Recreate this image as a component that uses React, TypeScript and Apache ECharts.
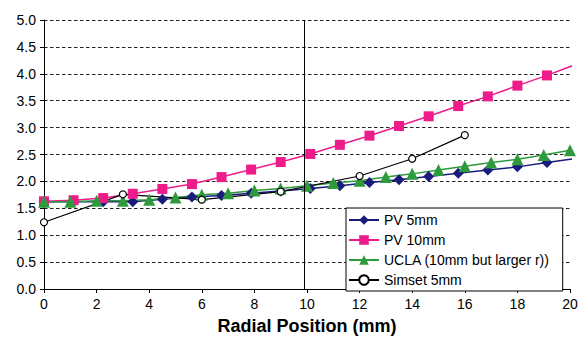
import React, { useEffect, useRef } from "react";
import * as echarts from "echarts";

const pvX = [0, 1.125, 2.25, 3.375, 4.5, 5.625, 6.75, 7.875, 9, 10.125, 11.25, 12.375, 13.5, 14.625, 15.75, 16.875, 18, 19.125, 20.25];
const pv5mm = [1.62, 1.62, 1.62, 1.62, 1.67, 1.71, 1.74, 1.78, 1.82, 1.87, 1.92, 1.98, 2.03, 2.09, 2.15, 2.21, 2.27, 2.35, 2.43];
const pv10mm = [1.63, 1.65, 1.69, 1.77, 1.86, 1.95, 2.08, 2.22, 2.36, 2.51, 2.68, 2.85, 3.03, 3.21, 3.4, 3.58, 3.78, 3.97, 4.18];
const uclaX = [0, 1, 2, 3, 4, 5, 6, 7, 8, 9, 10, 11, 12, 13, 14, 15, 16, 17, 18, 19, 20];
const ucla = [1.62, 1.62, 1.64, 1.64, 1.66, 1.7, 1.75, 1.78, 1.83, 1.87, 1.92, 1.97, 2.01, 2.08, 2.14, 2.21, 2.28, 2.35, 2.41, 2.49, 2.58];
const simsetX = [0, 3, 6, 9, 12, 14, 16];
const simset = [1.24, 1.76, 1.66, 1.81, 2.1, 2.42, 2.86];
const seriesNames = ["PV 5mm", "PV 10mm", "UCLA (10mm but larger r))", "Simset 5mm"];
const refLineX = 9.9;
const xAxisTitle = "Radial Position (mm)";

const FONT = "'Liberation Sans', Arial, sans-serif";

function pts(xs: number[], ys: number[], xMax: number) {
  return xs.map((x, i) =>
    x > xMax ? { value: [x, ys[i]], symbol: "none" } : { value: [x, ys[i]] }
  );
}

export default function App() {
  const ref = useRef<HTMLDivElement>(null);
  useEffect(() => {
    if (!ref.current) return;
    const chart = echarts.init(ref.current, null, { renderer: "svg" });
    const blue = "#1B1B7E";
    const pink = "#EE1C8A";
    const green = "#2E9A3C";
    chart.setOption({
      animation: false,
      backgroundColor: "#fff",
      textStyle: { fontFamily: FONT },
      grid: { left: 44, right: 11, top: 20, bottom: 45 },
      legend: {
        orient: "vertical",
        left: 346,
        top: 208,
        padding: [5, 13, 4, 2],
        itemGap: 6,
        itemWidth: 30,
        itemHeight: 12,
        backgroundColor: "#fff",
        borderColor: "#000",
        borderWidth: 1,
        borderRadius: 0,
        textStyle: { fontFamily: FONT, fontSize: 14, color: "#000" },
        data: seriesNames,
      },
      xAxis: {
        type: "value",
        min: 0,
        max: 20,
        interval: 2,
        name: xAxisTitle,
        nameLocation: "middle",
        nameGap: 28,
        nameTextStyle: { fontFamily: FONT, fontSize: 18, fontWeight: "bold", color: "#000" },
        axisLine: { onZero: false, lineStyle: { color: "#000", width: 1 } },
        axisTick: { show: true, inside: false, length: 4, lineStyle: { color: "#000" } },
        axisLabel: { fontFamily: FONT, fontSize: 14, color: "#000", margin: 8 },
        splitLine: { show: false },
      },
      yAxis: {
        type: "value",
        min: 0,
        max: 5,
        interval: 0.5,
        axisLine: { show: true, lineStyle: { color: "#000", width: 1 } },
        axisTick: { show: true, inside: false, length: 4, lineStyle: { color: "#000" } },
        axisLabel: {
          fontFamily: FONT,
          fontSize: 14,
          color: "#000",
          margin: 8,
          formatter: (v: number) => v.toFixed(1),
        },
        splitLine: {
          show: true,
          lineStyle: { color: "#222", width: 1.1, type: [3.5, 2.5] },
        },
      },
      series: [
        {
          name: seriesNames[0],
          type: "line",
          clip: false,
          data: pts(pvX, pv5mm, 20),
          symbol: "diamond",
          symbolSize: 11,
          color: blue,
          lineStyle: { color: blue, width: 1.5 },
          itemStyle: { color: blue },
          markLine: {
            silent: true,
            symbol: ["none", "none"],
            label: { show: false },
            lineStyle: { color: "#000", type: "solid", width: 1 },
            data: [{ xAxis: refLineX }],
          },
        },
        {
          name: seriesNames[1],
          type: "line",
          clip: false,
          data: pts(pvX, pv10mm, 20),
          symbol: "rect",
          symbolSize: 10,
          color: pink,
          lineStyle: { color: pink, width: 1.5 },
          itemStyle: { color: pink },
        },
        {
          name: seriesNames[2],
          type: "line",
          clip: false,
          data: pts(uclaX, ucla, 20),
          symbol: "triangle",
          symbolSize: 12,
          color: green,
          lineStyle: { color: green, width: 1.5 },
          itemStyle: { color: green },
        },
        {
          name: seriesNames[3],
          type: "line",
          clip: false,
          data: pts(simsetX, simset, 20),
          symbol: "circle",
          symbolSize: 7,
          color: "#000",
          lineStyle: { color: "#000", width: 1.2 },
          itemStyle: { color: "#fff", borderColor: "#000", borderWidth: 1.2 },
        },
      ],
    });
    return () => chart.dispose();
  }, []);
  return (
    <div
      ref={ref}
      style={{ position: "fixed", left: 0, top: 0, width: 581, height: 340 }}
    />
  );
}
